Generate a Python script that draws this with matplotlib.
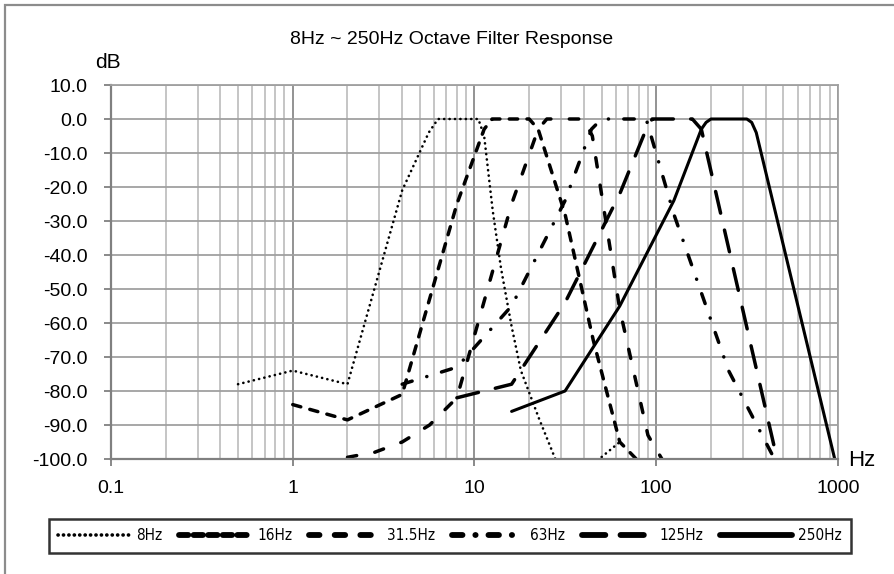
import matplotlib
matplotlib.use('Agg')
import matplotlib.pyplot as plt
from matplotlib.lines import Line2D
from matplotlib.patches import Rectangle
from matplotlib.ticker import FixedLocator, NullFormatter

plt.rcParams['font.family'] = ['Liberation Sans', 'DejaVu Sans']

# values (Hz, dB)
f8 = [0.5, 1, 2, 4, 5.6, 6.3, 10.5, 11.3, 12.6, 14, 16, 18, 22.6, 32, 63]
db8 = [-78, -74, -78, -21, -4, 0, 0, -5, -27, -44, -61, -74, -88, -108, -95]

f16 = [1, 2, 4, 8, 11.3, 12.5, 20, 22.4, 31.5, 45, 63, 128]
db16 = [-84, -88.5, -81, -25, -3, 0, 0, -3, -28, -65, -95, -112]

f31 = [2, 2.83, 4, 5.66, 8, 16, 22.4, 25, 40, 44.5, 63, 90, 125]
db31 = [-99.5, -98, -95, -90, -82, -25, -3, 0, 0, -5, -56, -93, -106]

f63 = [4, 5.66, 8, 16, 31.5, 44, 50, 88, 125, 250, 500]
db63 = [-78, -75.5, -73, -55, -24, -3, 0, 0, -28, -74, -105]

f125 = [8, 11.3, 16, 31.5, 63, 88, 95, 158, 177, 500]
db125 = [-82, -80, -78, -54, -22, -3, 0, 0, -3, -108]

f250 = [16, 31.5, 63, 125, 177, 188, 200, 315, 335, 355, 1000]
db250 = [-86, -80, -55, -24, -3, -1, 0, 0, -1, -4, -104]

labels = ['8Hz', '16Hz', '31.5Hz', '63Hz', '125Hz', '250Hz']
freqs = [f8, f16, f31, f63, f125, f250]
dbs = [db8, db16, db31, db63, db125, db250]

yticks = [10, 0, -10, -20, -30, -40, -50, -60, -70, -80, -90, -100]
xticks = [0.1, 1, 10, 100, 1000]
xticklabels = ['0.1', '1', '10', '100', '1000']

# line widths and dash patterns per series (plot, legend)
styles = [
    dict(lw=1.9, dashes=(0.05, 2.0)),
    dict(lw=2.5, dashes=(2.4, 2.7)),
    dict(lw=2.5, dashes=(2.7, 5.3)),
    dict(lw=2.5, dashes=(3.0, 4.4, 0.05, 4.4)),
    dict(lw=2.5, dashes=(6.4, 5.0)),
    dict(lw=2.2, dashes=None),
]
leg_styles = [
    dict(lw=2.6, dashes=(0.05, 1.45)),
    dict(lw=4.2, dashes=(1.6, 0.9)),
    dict(lw=4.2, dashes=(1.8, 2.6)),
    dict(lw=4.2, dashes=(1.8, 2.2, 0.05, 2.2)),
    dict(lw=4.2, dashes=(4.0, 2.6)),
    dict(lw=4.2, dashes=None),
]

fig = plt.figure(figsize=(8.95, 5.74), dpi=100)
ax = fig.add_axes([111 / 895, 1 - 459 / 574, (838 - 111) / 895, (459 - 85) / 574])

for f, d, lab, st in zip(freqs, dbs, labels, styles):
    if st['dashes'] is None:
        ax.plot(f, d, color='black', lw=st['lw'], solid_capstyle='round',
                solid_joinstyle='round', label=lab)
    else:
        ax.plot(f, d, color='black', lw=st['lw'], dashes=st['dashes'],
                dash_capstyle='round', dash_joinstyle='round', label=lab)

handles = []
for st in leg_styles:
    if st['dashes'] is None:
        h = Line2D([], [], color='black', lw=st['lw'], solid_capstyle='round')
    else:
        h = Line2D([], [], color='black', lw=st['lw'], dashes=st['dashes'],
                   dash_capstyle='round')
    handles.append(h)

ax.set_xscale('log')
ax.set_xlim(0.1, 1000)
ax.set_ylim(-100, 10)
ax.set_xticks(xticks)
ax.set_xticklabels(xticklabels)
minors = [m * 10.0 ** e for e in range(-1, 3) for m in range(2, 10)]
ax.xaxis.set_minor_locator(FixedLocator(minors))
ax.xaxis.set_minor_formatter(NullFormatter())
ax.set_yticks(yticks)
ax.set_yticklabels(['%.1f' % v for v in yticks])

ax.grid(True, which='major', axis='y', color='#a0a0a0', lw=1.3)
ax.grid(True, which='major', axis='x', color='#8a8a8a', lw=1.3)
ax.grid(True, which='minor', axis='x', color='#c0c0c0', lw=1.3)
ax.set_axisbelow(True)

for s in ['top', 'right']:
    ax.spines[s].set_color('#a0a0a0')
    ax.spines[s].set_linewidth(1.3)
for s in ['left', 'bottom']:
    ax.spines[s].set_color('#808080')
    ax.spines[s].set_linewidth(1.6)

ax.tick_params(axis='both', which='major', direction='out', length=5, width=1.3,
               color='#808080', labelsize=14, labelcolor='black')
ax.tick_params(axis='y', which='major', pad=12)
ax.tick_params(axis='x', which='major', pad=10)
ax.tick_params(axis='x', which='minor', length=0)

fig.text(452 / 895, 1 - 40 / 574, '8Hz ~ 250Hz Octave Filter Response',
         ha='center', va='center', fontsize=14)
fig.text(108 / 895, 1 - 62 / 574, 'dB', ha='center', va='center', fontsize=15)
fig.text(862 / 895, 1 - 461 / 574, 'Hz', ha='center', va='center', fontsize=16)

leg = fig.legend(handles, labels, loc='center',
                 bbox_to_anchor=(450 / 895, 1 - 536 / 574),
                 ncol=6, frameon=True, fancybox=False,
                 edgecolor='black', handlelength=4.7, handletextpad=0.4,
                 borderpad=0.6, columnspacing=1.1,
                 prop=dict(family='DejaVu Sans', stretch='condensed', size=11))
leg.get_frame().set_linewidth(1.8)

fig.patches.append(Rectangle((5 / 895, -10 / 574), 900 / 895, 579 / 574,
                             transform=fig.transFigure, fill=False,
                             edgecolor='#8c8c8c', lw=1.6))

fig.savefig('out.png', dpi=100)
